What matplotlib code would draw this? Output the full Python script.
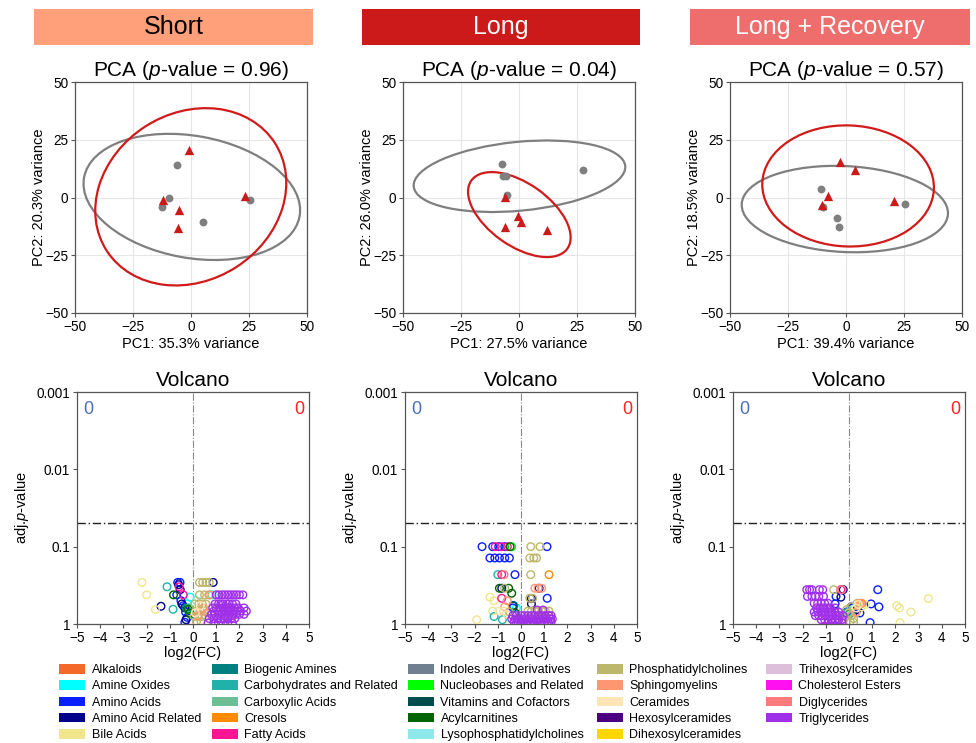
import matplotlib
matplotlib.use("Agg")
import matplotlib.pyplot as plt
from matplotlib.patches import Ellipse, Rectangle, Patch
from matplotlib.ticker import FixedLocator, NullLocator

plt.rcParams['font.family'] = ['Liberation Sans', 'DejaVu Sans']
plt.rcParams['mathtext.fontset'] = 'custom'
plt.rcParams['mathtext.it'] = 'Liberation Sans:italic'
plt.rcParams['mathtext.rm'] = 'Liberation Sans'

# ---------------- headers ----------------
panel_names = ["Short", "Long", "Long + Recovery"]
header_colors = ["#FFA07A", "#CC1A1A", "#EE6E6E"]
header_text_colors = ["black", "white", "white"]

# ---------------- PCA data ----------------
pca_pvalues = ["0.96", "0.04", "0.57"]
pc1_var = ["35.3", "27.5", "39.4"]
pc2_var = ["20.3", "26.0", "18.5"]

short_ctrl_x = [-6.1, -9.3, -12.6, 5.0, 25.5]
short_ctrl_y = [14.2, 0.0, -4.3, -10.5, -0.9]
short_trt_x = [-0.9, -12.2, -5.1, -5.7, 23.1]
short_trt_y = [20.5, -1.0, -5.3, -13.3, 0.6]

long_ctrl_x = [-7.5, -7.0, -5.6, -5.3, 27.5]
long_ctrl_y = [14.6, 9.3, 9.3, 1.0, 12.1]
long_trt_x = [-6.0, -6.2, -0.5, 0.8, 12.0]
long_trt_y = [0.4, -12.7, -8.2, -10.5, -14.0]

rec_ctrl_x = [-10.7, -9.7, -3.9, -3.1, 25.3]
rec_ctrl_y = [3.6, -4.0, -8.8, -12.9, -3.0]
rec_trt_x = [-2.4, 3.7, -7.6, -10.3, 20.7]
rec_trt_y = [15.5, 12.1, 0.6, -3.4, -1.6]

# ellipses: (center x, center y, width, height, angle)
short_ctrl_ell = (0.35, 0.25, 94.4, 52.8, -10.3)
short_trt_ell = (-0.1, 0.3, 86.2, 72.4, 33.0)
long_ctrl_ell = (0.2, 9.2, 91.6, 29.8, 5.6)
long_trt_ell = (0.15, -7.4, 50.8, 27.0, -35.5)
rec_ctrl_ell = (-0.5, -5.0, 89.0, 37.2, -2.8)
rec_trt_ell = (0.9, 5.0, 74.0, 52.4, -2.0)

# ---------------- Volcano classes ----------------
classes = ["Alkaloids", "Amine Oxides", "Amino Acids", "Amino Acid Related", "Bile Acids",
           "Biogenic Amines", "Carbohydrates and Related", "Carboxylic Acids", "Cresols", "Fatty Acids",
           "Indoles and Derivatives", "Nucleobases and Related", "Vitamins and Cofactors", "Acylcarnitines",
           "Lysophosphatidylcholines", "Phosphatidylcholines", "Sphingomyelins", "Ceramides",
           "Hexosylceramides", "Dihexosylceramides", "Trihexosylceramides", "Cholesterol Esters",
           "Diglycerides", "Triglycerides"]
class_colors = ["#F4692A", "#00FFFF", "#0A1EFF", "#00008B", "#F0E68C",
                "#008080", "#20B2AA", "#6DBE94", "#FF8C00", "#FF1493",
                "#708090", "#00FF00", "#004D4D", "#006400",
                "#8EEAEA", "#BDB76B", "#FF9672", "#FFE4B5",
                "#4B0082", "#FFD700", "#DDBEDB", "#FF10F0",
                "#FF7B7B", "#A030E8"]

short_points = {
    "Bile Acids": ([-2.2, -2.0, -1.62], [0.29, 0.42, 0.65]),
    "Amino Acid Related": ([-1.38, -0.62, -0.55, -0.48, -0.35, 0.87, -0.3], [0.59, 0.31, 0.36, 0.55, 0.62, 0.29, 0.88]),
    "Carbohydrates and Related": ([-1.12, -0.86, -0.18], [0.33, 0.645, 0.62]),
    "Biogenic Amines": ([-0.3, -0.1], [0.62, 0.75]),
    "Acylcarnitines": ([-0.84, -0.2, -0.15], [0.42, 0.645, 0.72]),
    "Amino Acids": ([-0.66, -0.56, -0.7, -0.52, -0.42, -0.32, -0.25, -0.35], [0.29, 0.29, 0.42, 0.5, 0.58, 0.7, 0.82, 0.95]),
    "Fatty Acids": ([-0.6, -0.42], [0.33, 0.42]),
    "Amine Oxides": ([-0.12, 0.82, -0.25], [0.45, 0.42, 0.55]),
    "Nucleobases and Related": ([-0.2], [0.65]),
    "Lysophosphatidylcholines": ([1.05, 0.15], [0.42, 0.5]),
    "Phosphatidylcholines": ([0.28, 0.42, 0.56, 0.7, 0.28, 0.5, 0.68, 0.08, 0.25, 0.4, 0.55, 0.12, 0.3, 0.48,
                              0.05, 0.22, 0.38, 0.55, 0.15, 0.35],
                             [0.29, 0.29, 0.29, 0.29, 0.42, 0.42, 0.42, 0.55, 0.55, 0.55, 0.55, 0.68, 0.68, 0.68,
                              0.8, 0.8, 0.8, 0.8, 0.93, 0.93]),
    "Sphingomyelins": ([0.72, 0.45, 0.62, 0.2], [0.42, 0.62, 0.72, 0.78]),
    "Ceramides": ([0.1, 0.32], [0.72, 0.58]),
    "Triglycerides": ([1.0, 1.12, 1.25, 1.37, 1.5, 1.62, 1.75, 1.87, 2.0, 2.15,
                       0.95, 1.1, 1.2, 1.3, 1.45, 1.55, 1.7, 1.85,
                       0.85, 1.0, 1.15, 1.3, 1.4, 1.55, 1.65, 1.8, 1.95, 2.2,
                       0.9, 1.05, 1.2, 1.35, 1.5, 1.6, 1.75, 1.9, 2.05, 2.3,
                       0.8, 0.95, 1.1, 1.25, 1.4, 1.55, 1.7, 1.85, 2.0, 2.2,
                       0.7, 0.9, 1.05, 1.2, 1.35, 1.5, 1.65, 1.8,
                       0.65, 0.9, 1.1, 1.3, 1.5, 1.7],
                      [0.42, 0.42, 0.42, 0.42, 0.42, 0.42, 0.42, 0.42, 0.42, 0.42,
                       0.55, 0.55, 0.55, 0.55, 0.55, 0.55, 0.55, 0.55,
                       0.62, 0.62, 0.62, 0.62, 0.62, 0.62, 0.62, 0.62, 0.62, 0.62,
                       0.68, 0.68, 0.68, 0.68, 0.68, 0.68, 0.68, 0.68, 0.68, 0.68,
                       0.75, 0.75, 0.75, 0.75, 0.75, 0.75, 0.75, 0.75, 0.75, 0.75,
                       0.85, 0.85, 0.85, 0.85, 0.85, 0.85, 0.85, 0.85,
                       0.97, 0.97, 0.97, 0.97, 0.97, 0.97]),
}

long_points = {
    "Amino Acids": ([-1.68, -1.22, -0.96, -0.70, -1.34, -1.13, -0.93, -0.70, -0.50, -0.26, 1.12, 1.13, -0.35],
                    [0.1, 0.1, 0.1, 0.1, 0.14, 0.14, 0.14, 0.14, 0.14, 0.23, 0.1, 0.465, 0.62]),
    "Fatty Acids": ([-1.11, -0.85, -0.59, -0.83, -0.83], [0.1, 0.1, 0.1, 0.23, 0.465]),
    "Acylcarnitines": ([-0.47, -0.93, -0.53, -0.4, -0.25], [0.1, 0.345, 0.345, 0.4, 0.72]),
    "Nucleobases and Related": ([-0.4], [0.1]),
    "Carbohydrates and Related": ([-1.0, -1.16, -0.8], [0.23, 0.8, 0.88]),
    "Diglycerides": ([-0.73], [0.23]),
    "Sphingomyelins": ([-0.59, 0.6, 0.74, 0.89, -0.7], [0.5, 0.345, 0.345, 0.345, 0.6]),
    "Amino Acid Related": ([-0.83, 0.78, 0.45, -0.34, 0.45], [0.345, 0.345, 0.47, 0.58, 0.55]),
    "Phosphatidylcholines": ([0.42, 0.82, 0.38, 0.55, 0.67, 0.42, -0.71, 0.38, 0.5,
                              0.3, 0.45, 0.6, 0.75, 0.9, 1.05, 1.2, -0.5],
                             [0.1, 0.1, 0.14, 0.14, 0.14, 0.23, 0.345, 0.465, 0.465,
                              0.68, 0.68, 0.68, 0.68, 0.68, 0.68, 0.68, 0.7]),
    "Bile Acids": ([-1.34, -1.17, -1.22, -0.75, -1.91], [0.45, 0.5, 0.68, 0.68, 0.88]),
    "Ceramides": ([-0.95, -0.6], [0.68, 0.75]),
    "Cresols": ([1.21], [0.23]),
    "Amine Oxides": ([-0.3, -0.2], [0.58, 0.62]),
    "Vitamins and Cofactors": ([-0.35], [0.58]),
    "Triglycerides": ([0.7, 0.95,
                       -0.35, -0.2, 0.0, 0.15, 0.3, 0.45, 0.6, 0.75, 0.9, 1.05, 1.2, 1.3,
                       -0.4, -0.25, -0.1, 0.05, 0.2, 0.35, 0.5, 0.65, 0.8, 0.95, 1.1, 1.25, 1.35,
                       -0.3, -0.15, 0.0, 0.1, 0.25, 0.4, 0.55, 0.7, 0.85, 1.0, 1.15, 1.3,
                       -0.2, 0.0, 0.2, 0.4, 0.6, 0.8, 1.0, 1.2],
                      [0.66, 0.66,
                       0.78, 0.78, 0.78, 0.78, 0.78, 0.78, 0.78, 0.78, 0.78, 0.78, 0.78, 0.78,
                       0.86, 0.86, 0.86, 0.86, 0.86, 0.86, 0.86, 0.86, 0.86, 0.86, 0.86, 0.86, 0.86,
                       0.93, 0.93, 0.93, 0.93, 0.93, 0.93, 0.93, 0.93, 0.93, 0.93, 0.93, 0.93,
                       0.99, 0.99, 0.99, 0.99, 0.99, 0.99, 0.99, 0.99]),
}

rec_points = {
    "Amino Acids": ([-0.56, -0.29, 1.24, 0.95, 1.29, 0.91, 0.47, -0.1, 0.15, -0.6],
                    [0.44, 0.36, 0.36, 0.55, 0.6, 0.96, 0.72, 0.7, 0.62, 0.55]),
    "Amino Acid Related": ([-0.25, -0.35, 0.1, 0.35], [0.36, 0.45, 0.6, 0.65]),
    "Phosphatidylcholines": ([-0.66, 0.35, 0.45, -0.1, 0.0, 0.1, 0.2, 0.3, -0.2, 0.05, 0.2, 0.1],
                             [0.36, 0.54, 0.56, 0.65, 0.72, 0.78, 0.85, 0.72, 0.85, 0.93, 0.95, 0.6]),
    "Fatty Acids": ([-0.35], [0.36]),
    "Sphingomyelins": ([0.45, 0.5, 0.3], [0.54, 0.54, 0.7]),
    "Cresols": ([0.55], [0.54]),
    "Bile Acids": ([2.06, 2.17, 2.67, 3.42, 2.2, 0.55, 0.7], [0.58, 0.62, 0.7, 0.47, 0.96, 0.6, 0.56]),
    "Ceramides": ([0.3, 0.4], [0.62, 0.56]),
    "Amine Oxides": ([0.2], [0.65]),
    "Carbohydrates and Related": ([-0.05], [0.7]),
    "Biogenic Amines": ([0.0], [0.75]),
    "Diglycerides": ([-0.3], [0.36]),
    "Triglycerides": ([-1.82, -1.7, -1.6, -1.28, -1.13,
                       -1.79, -1.6, -1.45, -1.3, -1.1,
                       -1.5, -1.35, -1.2, -1.05, -0.9,
                       -1.4, -1.25, -1.1, -0.95, -0.8, -0.6,
                       -1.5, -1.35, -1.2, -1.05, -0.9, -0.75, -0.6, -0.45,
                       -1.45, -1.3, -1.15, -1.0, -0.85, -0.7, -0.55, -0.4, -0.25,
                       -1.2, -1.05, -0.9, -0.75, -0.6, -0.45, -0.3,
                       -0.9, -0.7, -0.5, -0.3],
                      [0.36, 0.36, 0.36, 0.36, 0.36,
                       0.44, 0.44, 0.44, 0.44, 0.44,
                       0.54, 0.54, 0.54, 0.54, 0.54,
                       0.62, 0.62, 0.62, 0.62, 0.62, 0.62,
                       0.7, 0.7, 0.7, 0.7, 0.7, 0.7, 0.7, 0.7,
                       0.78, 0.78, 0.78, 0.78, 0.78, 0.78, 0.78, 0.78, 0.78,
                       0.88, 0.88, 0.88, 0.88, 0.88, 0.88, 0.88,
                       0.97, 0.97, 0.97, 0.97]),
}

volcano_ticks = [0.001, 0.01, 0.1, 1]
volcano_tick_labels = ["0.001", "0.01", "0.1", "1"]
pval_threshold = 0.05
n_down = ["0", "0", "0"]
n_up = ["0", "0", "0"]

# ---------------- Figure ----------------
W, H = 976, 743
fig = plt.figure(figsize=(W / 100, H / 100), dpi=100)

def fx(px):
    return px / W

def fy(py):
    return 1 - py / H

TICK_FS = 9.8
LABEL_FS = 10.5
TITLE_FS = 15

# headers
header_x = [(34, 313), (362, 640), (690, 970)]
for (x0, x1), name, col, tcol in zip(header_x, panel_names, header_colors, header_text_colors):
    fig.add_artist(Rectangle((fx(x0), fy(45)), fx(x1) - fx(x0), fy(9) - fy(45),
                             transform=fig.transFigure, facecolor=col, edgecolor='none'))
    fig.text((fx(x0) + fx(x1)) / 2, (fy(9) + fy(45)) / 2, name, ha='center', va='center',
             fontsize=18, color=tcol)

pca_lefts = [75, 403, 730]
pca_data = [
    (short_ctrl_x, short_ctrl_y, short_trt_x, short_trt_y, short_ctrl_ell, short_trt_ell),
    (long_ctrl_x, long_ctrl_y, long_trt_x, long_trt_y, long_ctrl_ell, long_trt_ell),
    (rec_ctrl_x, rec_ctrl_y, rec_trt_x, rec_trt_y, rec_ctrl_ell, rec_trt_ell),
]
gray = "#7F7F7F"
red = "#CC1A1A"
spine_col = "#555555"

for i, left in enumerate(pca_lefts):
    ax = fig.add_axes([fx(left), fy(313), 232 / W, 231 / H])
    cx, cy, tx, ty, ce, te = pca_data[i]
    ax.add_patch(Ellipse((ce[0], ce[1]), ce[2], ce[3], angle=ce[4], fill=False,
                         edgecolor=gray, lw=1.6, zorder=2))
    ax.add_patch(Ellipse((te[0], te[1]), te[2], te[3], angle=te[4], fill=False,
                         edgecolor="#D11A1A", lw=1.6, zorder=2))
    ax.scatter(cx, cy, s=32, color=gray, marker='o', linewidths=0, zorder=3)
    ax.scatter(tx, ty, s=45, color=red, marker='^', linewidths=0, zorder=4)
    ax.set_xlim(-50, 50)
    ax.set_ylim(-50, 50)
    ax.set_xticks([-50, -25, 0, 25, 50])
    ax.set_yticks([-50, -25, 0, 25, 50])
    ax.grid(True, color="#E6E6E6", lw=0.8, zorder=0)
    ax.set_axisbelow(True)
    for s in ax.spines.values():
        s.set_color(spine_col)
        s.set_linewidth(0.9)
    ax.tick_params(labelsize=TICK_FS, length=3, color=spine_col, pad=2)
    ax.set_title(r"PCA ($p$-value = " + pca_pvalues[i] + ")", fontsize=TITLE_FS, pad=4)
    ax.set_xlabel("PC1: " + pc1_var[i] + "% variance", fontsize=LABEL_FS, labelpad=2)
    ax.set_ylabel("PC2: " + pc2_var[i] + "% variance", fontsize=LABEL_FS)
    ax.yaxis.set_label_coords(-0.125, 0.5)

vol_lefts = [77, 405, 733]
vol_data = [short_points, long_points, rec_points]
for i, left in enumerate(vol_lefts):
    ax = fig.add_axes([fx(left), fy(624), 232 / W, 232 / H])
    pts = vol_data[i]
    for cls, col in zip(classes, class_colors):
        if cls in pts:
            xs, ps = pts[cls]
            ax.scatter(xs, ps, s=30, facecolors='none', edgecolors=col, linewidths=1.0, zorder=3)
    ax.set_yscale('log')
    ax.set_xlim(-5, 5)
    ax.set_ylim(1, 0.001)
    ax.yaxis.set_major_locator(FixedLocator(volcano_ticks))
    ax.set_yticklabels(volcano_tick_labels)
    ax.yaxis.set_minor_locator(NullLocator())
    ax.set_xticks(list(range(-5, 6)))
    ax.axvline(0, color="#888888", lw=0.8, ls='-.', zorder=2)
    ax.axhline(pval_threshold, color="#222222", lw=1.0, ls=(0, (6, 2, 1, 2)), zorder=2)
    ax.text(-4.5, 0.0017, n_down[i], color="#4A6FB5", fontsize=13, ha='center', va='center')
    ax.text(4.6, 0.0017, n_up[i], color="#FF2020", fontsize=13, ha='center', va='center')
    for s in ax.spines.values():
        s.set_color(spine_col)
        s.set_linewidth(0.9)
    ax.tick_params(labelsize=TICK_FS, length=3, color=spine_col, pad=2)
    ax.set_title("Volcano", fontsize=TITLE_FS, pad=4)
    ax.set_xlabel("log2(FC)", fontsize=LABEL_FS, labelpad=1)
    ax.set_ylabel(r"adj.$p$-value", fontsize=LABEL_FS)
    ax.yaxis.set_label_coords(-0.2, 0.5)

# legend columns
col_x = [59, 212, 408, 597, 766]
col_groups = [classes[0:5], classes[5:10], classes[10:15], classes[15:20], classes[20:24]]
for x0, group in zip(col_x, col_groups):
    handles = [Patch(facecolor=class_colors[classes.index(c)], edgecolor='none') for c in group]
    fig.legend(handles, group, loc='upper left', bbox_to_anchor=(fx(x0), fy(664)),
               frameon=False, borderaxespad=0, borderpad=0, fontsize=9.0,
               handlelength=2.1, handleheight=0.8, handletextpad=0.5, labelspacing=0.33)

fig.savefig("out.png", dpi=100)
